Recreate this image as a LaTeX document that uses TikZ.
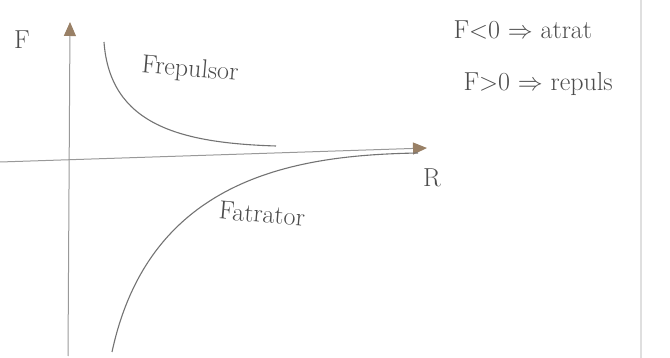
\documentclass[tikz,border=0pt]{standalone}
\usepackage{amsmath,amssymb}
\usepackage{tikz}
\usetikzlibrary{positioning, calc, arrows.meta}

\begin{document}
\begin{tikzpicture}[x=1pt, y=-1pt,
    axis/.style={-{Triangle[width=12pt,length=14pt,fill=brown!40!gray,color=brown!40!gray]}, draw=gray!80, line width=1pt},
    curve/.style={draw=gray!90!black, line width=1.1pt},
    hand/.style={text=gray!60!black, font=\fontsize{26}{30}\selectfont},
    note/.style={text=gray!60!black, font=\fontsize{26}{30}\selectfont, anchor=west}]
    \useasboundingbox (0,0) rectangle (670,358);

    % Axes
    \coordinate (xstart) at (0,162);
    \coordinate (xend) at (427,148);
    \coordinate (ystart) at (68,356);
    \coordinate (yend) at (70,22);
    \draw[axis] (xstart) -- (xend);
    \draw[axis] (ystart) -- (yend);
    \node[hand] (flabel) at (22,40) {F};
    \node[hand] (rlabel) at (432,178) {R};

    % paper edge
    \draw[gray!25, line width=1.5pt] (641,0) -- (641,358);

    % Repulsive and attractive curves
    \coordinate (rep0) at (104,42);
    \coordinate (rep1) at (276,146);
    \draw[curve] (rep0) .. controls (110,125) and (180,143) .. (rep1);
    \coordinate (att0) at (112,352);
    \coordinate (att1) at (418,153);
    \draw[curve] (att0) .. controls (150,175) and (300,155) .. (att1);
    \node[hand, rotate=-5] (reptext) at (190,70) {Frepulsor};
    \node[hand, rotate=-5] (atttext) at (262,214) {Fatrator};

    % Notes
    \node[note] (note1) at (450,30) {F$<$0 $\Rightarrow$ atrat};
    \node[note] (note2) at (460,84) {F$>$0 $\Rightarrow$ repuls};
\end{tikzpicture}
\end{document}
